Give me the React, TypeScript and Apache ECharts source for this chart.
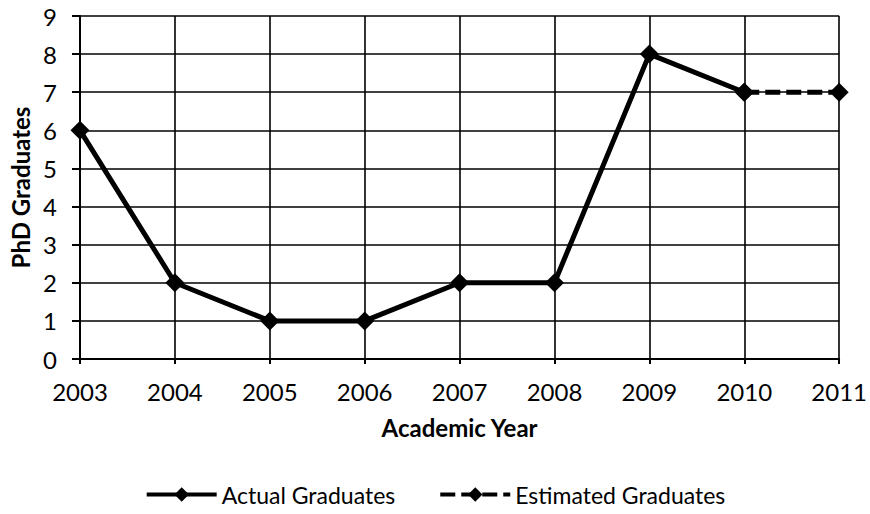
import React, { useEffect, useRef } from "react";
import * as echarts from "echarts";

const years = ["2003", "2004", "2005", "2006", "2007", "2008", "2009", "2010", "2011"];
const actualGraduates = [6, 2, 1, 1, 2, 2, 8, 7, null];
const estimatedGraduates = [null, null, null, null, null, null, null, 7, 7];
const yTicks = { min: 0, max: 9, interval: 1 };

const FONT = "Lato";

export default function App() {
  const ref = useRef<HTMLDivElement>(null);
  useEffect(() => {
    if (!ref.current) return;
    const chart = echarts.init(ref.current, undefined, { renderer: "svg" });
    chart.setOption({
      animation: false,
      backgroundColor: "#ffffff",
      textStyle: { fontFamily: FONT, color: "#000" },
      grid: { left: 80, right: 30, top: 16, bottom: 155, containLabel: false },
      legend: {
        top: 478,
        left: "center",
        itemWidth: 70,
        itemHeight: 18,
        itemGap: 43,
        lineStyle: { width: 4 },
        textStyle: { fontFamily: FONT, fontSize: 23, color: "#000" },
        data: ["Actual Graduates", "Estimated Graduates"],
      },
      xAxis: {
        type: "category",
        data: years,
        boundaryGap: false,
        name: "Academic Year",
        nameLocation: "middle",
        nameGap: 56,
        nameTextStyle: { fontFamily: FONT, fontSize: 24, fontWeight: "bold", color: "#000" },
        axisLine: { lineStyle: { color: "#000", width: 2 } },
        axisTick: { show: true, length: 5, alignWithLabel: true, lineStyle: { color: "#000", width: 2 } },
        axisLabel: { fontFamily: FONT, fontSize: 24, color: "#000", margin: 20 },
        splitLine: { show: true, lineStyle: { color: "#000", width: 1.6 } },
      },
      yAxis: {
        type: "value",
        min: yTicks.min,
        max: yTicks.max,
        interval: yTicks.interval,
        name: "PhD Graduates",
        nameLocation: "middle",
        nameGap: 46,
        nameTextStyle: { fontFamily: FONT, fontSize: 24, fontWeight: "bold", color: "#000" },
        axisLine: { show: true, lineStyle: { color: "#000", width: 2 } },
        axisTick: { show: true, length: 8, lineStyle: { color: "#000", width: 2 } },
        axisLabel: { fontFamily: FONT, fontSize: 24, color: "#000", margin: 23 },
        splitLine: { show: true, lineStyle: { color: "#000", width: 1.6 } },
      },
      series: [
        {
          name: "Actual Graduates",
          type: "line",
          data: actualGraduates,
          symbol: "diamond",
          symbolSize: 19,
          lineStyle: { color: "#000", width: 5 },
          itemStyle: { color: "#000" },
          connectNulls: false,
        },
        {
          name: "Estimated Graduates",
          type: "line",
          data: estimatedGraduates,
          symbol: "diamond",
          symbolSize: 19,
          lineStyle: { color: "#000", width: 5, type: [15, 6] },
          itemStyle: { color: "#000" },
        },
      ],
    });
    return () => chart.dispose();
  }, []);
  return <div ref={ref} style={{ position: "fixed", left: 0, top: 0, width: 870, height: 514 }} />;
}
